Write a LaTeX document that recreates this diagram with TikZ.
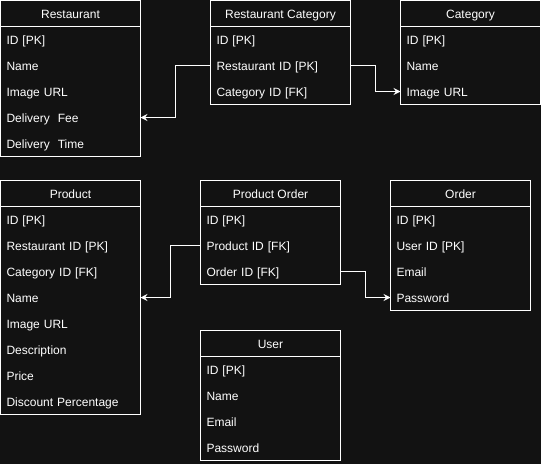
\documentclass[tikz,border=0pt]{standalone}
\usepackage{fontspec}
\setmainfont{Liberation Sans}
\usetikzlibrary{arrows.meta}
\definecolor{bg}{HTML}{121212}
\tikzset{
  hdr/.style={draw=white, line width=1pt, fill=bg, text=white, minimum width=140pt, minimum height=26pt, inner sep=0pt, outer sep=0pt, font=\fontsize{12}{14}\selectfont, text height=10.6pt, text depth=1pt},
  tblbox/.style={draw=white, line width=1pt, fill=bg, minimum width=140pt, inner sep=0pt, outer sep=0pt},
  rowtxt/.style={text=white, text width=128pt, align=left, inner xsep=6pt, inner ysep=0pt, minimum height=26pt, outer sep=0pt, font=\fontsize{12}{14}\selectfont, text height=10.6pt, text depth=1pt},
  conn/.style={draw=white, line width=1pt, -{Stealth[length=7pt, width=7pt, inset=2.5pt]}}
}
\newcommand\erdtable[6]{%
  \node[tblbox, minimum height={26pt+26pt*#4}] (#1) at (#2+70, #3+13+13*#4) {};
  \node[hdr] (#1-h) at (#2+70, #3+13) {#5};
  \foreach \t [count=\i] in {#6} {
    \node[rowtxt] (#1-\i) at (#2+70, #3+13+26*\i) {\t};
  }
}
\begin{document}
\begin{tikzpicture}[x=1pt, y=-1pt]
\fill[bg] (0,0) rectangle (541,464);
\useasboundingbox (0,0) rectangle (541,464);
\erdtable{rest}{0.5}{0.5}{5}{Restaurant}{ID [PK], Name, Image URL, Delivery\ \ Fee, Delivery\ \ Time}
\erdtable{rc}{210.5}{0.5}{3}{Restaurant Category}{ID [PK], Restaurant ID [PK], Category ID [FK]}
\erdtable{cat}{400.5}{0.5}{3}{Category}{ID [PK], Name, Image URL}
\erdtable{prod}{0.5}{180.5}{8}{Product}{ID [PK], Restaurant ID [PK], Category ID [FK], Name, Image URL, Description, Price, Discount Percentage}
\erdtable{po}{200.5}{180.5}{3}{Product Order}{ID [PK], Product ID [FK], Order ID [FK]}
\erdtable{ord}{390.5}{180.5}{4}{Order}{ID [PK], User ID [PK], Email, Password}
\erdtable{user}{200.5}{330.5}{4}{User}{ID [PK], Name, Email, Password}
\draw[conn] (rc-2.west) -- ++(-35,0) |- (rest-4.east);
\draw[conn] (rc-2.east) -- ++(25,0) |- (cat-3.west);
\draw[conn] (po-2.west) -- ++(-30,0) |- (prod-4.east);
\draw[conn] (po-3.east) -- ++(25,0) |- (ord-4.west);
\end{tikzpicture}
\end{document}
